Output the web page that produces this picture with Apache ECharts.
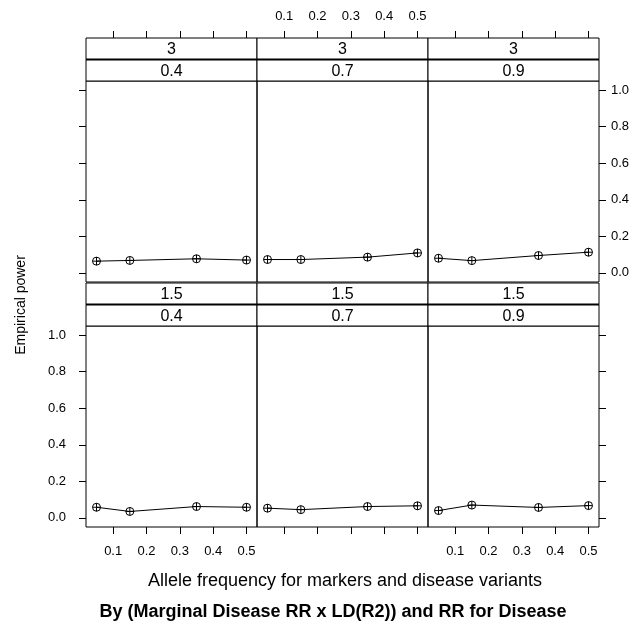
<!DOCTYPE html>
<html>
<head>
<meta charset="utf-8">
<script src="https://cdn.jsdelivr.net/npm/echarts@6/dist/echarts.min.js"></script>
<style>
html,body{margin:0;padding:0;background:#fff;}
#chart{width:642px;height:626px;}
</style>
</head>
<body>
<div id="chart"></div>
<script>
// ---- data ----
var alleleFreq = [0.05, 0.15, 0.35, 0.5];
var rrLevels = ['3', '1.5'];          // rows: top, bottom
var ldLevels = ['0.4', '0.7', '0.9']; // columns
var xTicks = [0.1, 0.2, 0.3, 0.4, 0.5];
var yTicks = [0, 0.2, 0.4, 0.6, 0.8, 1.0];
var power_rr3_ld04 = [0.064, 0.068, 0.077, 0.070];
var power_rr3_ld07 = [0.073, 0.073, 0.086, 0.109];
var power_rr3_ld09 = [0.080, 0.067, 0.095, 0.113];
var power_rr15_ld04 = [0.058, 0.035, 0.062, 0.058];
var power_rr15_ld07 = [0.053, 0.045, 0.062, 0.066];
var power_rr15_ld09 = [0.040, 0.070, 0.057, 0.067];
var panelValues = [
  [power_rr3_ld04, power_rr3_ld07, power_rr3_ld09],
  [power_rr15_ld04, power_rr15_ld07, power_rr15_ld09]
];
var xTitle = 'Allele frequency for markers and disease variants';
var yTitle = 'Empirical power';
var mainTitle = 'By (Marginal Disease RR x LD(R2)) and RR for Disease';

// ---- layout ----
var FONT = '"Liberation Sans", Arial, Helvetica, sans-serif';
var colLeft = [86, 257, 428];
var panelW = 171;
var rowTop = [81, 326];
var panelH = 201;
var stripH = 21.5;
var xMin = 0.0185, xMax = 0.5315;
var yMin = -0.05, yMax = 1.05;

var grids = [], xAxes = [], yAxes = [], series = [], graphics = [];
var symbolPath = 'path://M0,-10A10,10 0 1,1 0,10A10,10 0 1,1 0,-10ZM-10,0L10,0M0,-10L0,10';

for (var r = 0; r < 2; r++) {
  for (var c = 0; c < 3; c++) {
    var gi = grids.length;
    grids.push({
      left: colLeft[c], top: rowTop[r], width: panelW, height: panelH,
      show: true, borderColor: '#000', borderWidth: 1, backgroundColor: 'transparent'
    });
    var xLabelShow = (r === 0) ? (c === 1) : (c !== 1);
    xAxes.push({
      type: 'value', gridIndex: gi, min: xMin, max: xMax,
      position: r === 0 ? 'top' : 'bottom',
      offset: r === 0 ? stripH * 2 : 0,
      axisLine: {show: false, onZero: false},
      splitLine: {show: false},
      axisTick: {show: true, inside: false, length: 7, lineStyle: {color: '#000', width: 1}, customValues: xTicks},
      axisLabel: {show: xLabelShow, customValues: xTicks, margin: r === 0 ? 15 : 18, color: '#000',
        fontFamily: FONT, fontSize: 13, formatter: function (v) { return v.toFixed(1); }}
    });
    var yShow = c !== 1;
    var yLabelShow = (c === 0 && r === 1) || (c === 2 && r === 0);
    yAxes.push({
      type: 'value', gridIndex: gi, min: yMin, max: yMax, show: yShow,
      position: c === 2 ? 'right' : 'left',
      axisLine: {show: false, onZero: false},
      splitLine: {show: false},
      axisTick: {show: true, inside: false, length: 7, lineStyle: {color: '#000', width: 1}, customValues: yTicks},
      axisLabel: {show: yLabelShow, customValues: yTicks, margin: c === 2 ? 12 : 20, color: '#000',
        fontFamily: FONT, fontSize: 13, formatter: function (v) { return v.toFixed(1); }}
    });
    var vals = panelValues[r][c];
    var pts = alleleFreq.map(function (x, i) { return [x, vals[i]]; });
    series.push({
      type: 'line', xAxisIndex: gi, yAxisIndex: gi, data: pts,
      symbol: symbolPath, symbolSize: 8, showSymbol: true,
      lineStyle: {color: '#000', width: 1},
      itemStyle: {color: 'none', borderColor: '#000', borderWidth: 1},
      animation: false, silent: true
    });
    // strips
    var stripTexts = [rrLevels[r], ldLevels[c]];
    for (var s = 0; s < 2; s++) {
      var sy = rowTop[r] - stripH * 2 + s * stripH;
      graphics.push({
        type: 'rect', shape: {x: colLeft[c], y: sy, width: panelW, height: stripH},
        style: {fill: '#fff', stroke: '#000', lineWidth: 1}, z: 10
      });
      graphics.push({
        type: 'text', x: colLeft[c] + panelW / 2, y: sy + stripH / 2 + 1,
        style: {text: stripTexts[s], fill: '#000', font: '16px ' + FONT, align: 'center', verticalAlign: 'middle'}, z: 11
      });
    }
    // thicker line between the two strips
    graphics.push({
      type: 'line', shape: {x1: colLeft[c], y1: rowTop[r] - stripH, x2: colLeft[c] + panelW, y2: rowTop[r] - stripH},
      style: {stroke: '#000', lineWidth: 2}, z: 12
    });
  }
}

graphics.push({
  type: 'text', x: 345, y: 581,
  style: {text: xTitle, fill: '#000', font: '18px ' + FONT, align: 'center', verticalAlign: 'middle'}
});
graphics.push({
  type: 'text', x: 21, y: 305, rotation: Math.PI / 2,
  style: {text: yTitle, fill: '#000', font: '14px ' + FONT, align: 'center', verticalAlign: 'middle'}
});
graphics.push({
  type: 'text', x: 333, y: 612,
  style: {text: mainTitle, fill: '#000', font: 'bold 18px ' + FONT, align: 'center', verticalAlign: 'middle'}
});

var chart = echarts.init(document.getElementById('chart'), null, {renderer: 'canvas'});
chart.setOption({
  animation: false,
  backgroundColor: '#fff',
  grid: grids,
  xAxis: xAxes,
  yAxis: yAxes,
  series: series,
  graphic: graphics
});
</script>
</body>
</html>
